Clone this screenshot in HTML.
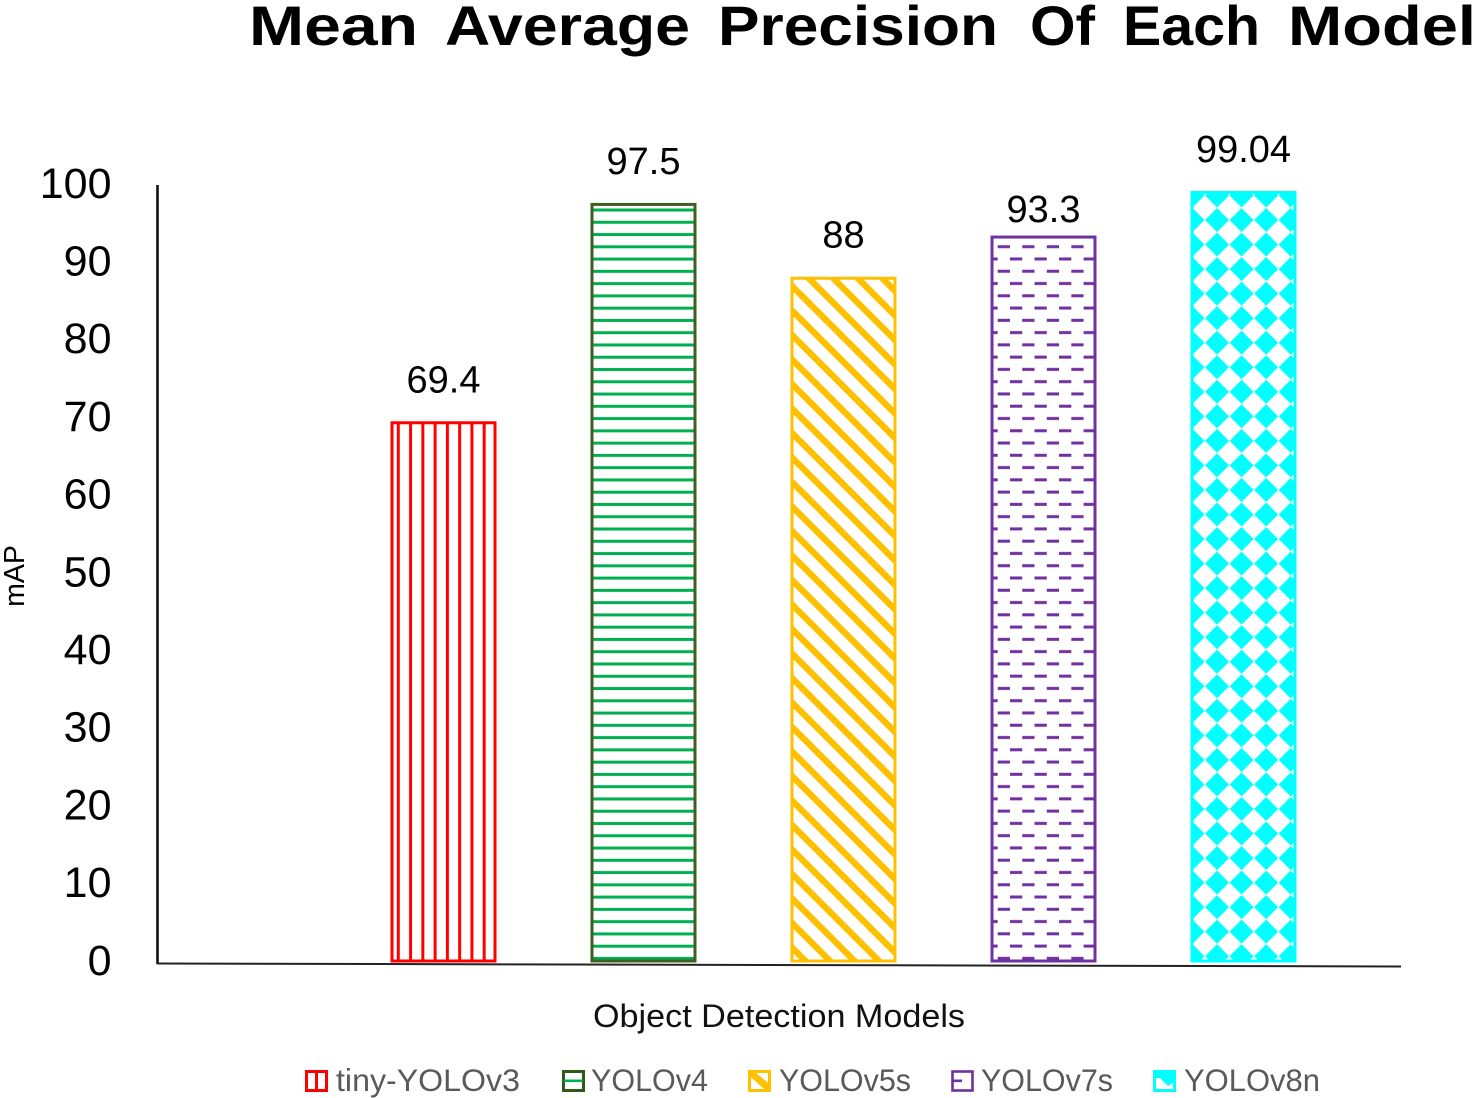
<!DOCTYPE html>
<html lang="en">
<head>
<meta charset="utf-8">
<title>Mean Average Precision Of Each Model</title>
<style>
  html, body { margin: 0; padding: 0; background: #ffffff; }
  svg { display: block; font-family: "Liberation Sans", sans-serif; }
</style>
</head>
<body>
<svg id="chart" xmlns="http://www.w3.org/2000/svg" width="1476" height="1098" viewBox="0 0 1476 1098">
  <defs>
    <pattern id="hatch-red" patternUnits="userSpaceOnUse" x="398.3" y="0" width="12.27" height="20">
      <rect width="12.27" height="20" fill="#ffffff"/>
      <rect x="-1.5" width="3" height="20" fill="#ff0000"/>
      <rect x="10.77" width="3" height="20" fill="#ff0000"/>
    </pattern>
    <pattern id="hatch-green" patternUnits="userSpaceOnUse" x="0" y="210" width="20" height="12.27">
      <rect width="20" height="12.27" fill="#ffffff"/>
      <rect y="-1.5" width="20" height="3" fill="#00b050"/>
      <rect y="10.77" width="20" height="3" fill="#00b050"/>
    </pattern>
    <pattern id="hatch-orange" patternUnits="userSpaceOnUse" x="16" y="0" width="24.5" height="24.5">
      <rect width="24.5" height="24.5" fill="#ffffff"/>
      <path d="M-5 -5L29.5 29.5M-5 19.5L5 29.5M19.5 -5L29.5 5" stroke="#ffc000" stroke-width="6.4" fill="none"/>
    </pattern>
    <pattern id="hatch-purple" patternUnits="userSpaceOnUse" x="997.7" y="240.5" width="24.54" height="24.54">
      <rect width="24.54" height="24.54" fill="#ffffff"/>
      <rect x="0" y="4.7" width="12.27" height="3" fill="#7030a0"/>
      <rect x="12.27" y="16.97" width="12.27" height="3" fill="#7030a0"/>
    </pattern>
    <pattern id="hatch-cyan" patternUnits="userSpaceOnUse" x="1192.5" y="195.5" width="24.54" height="24.54">
      <rect width="24.54" height="24.54" fill="#ffffff"/>
      <polygon points="0,-12 12,0 0,12 -12,0" fill="#00ffff"/>
      <polygon points="24.54,-12 36.54,0 24.54,12 12.54,0" fill="#00ffff"/>
      <polygon points="0,12.54 12,24.54 0,36.54 -12,24.54" fill="#00ffff"/>
      <polygon points="24.54,12.54 36.54,24.54 24.54,36.54 12.54,24.54" fill="#00ffff"/>
    </pattern>
  </defs>

  <rect width="1476" height="1098" fill="#ffffff"/>

  <text y="45" font-size="56" font-weight="700" fill="#000000"><tspan x="249" textLength="169" lengthAdjust="spacingAndGlyphs">Mean</tspan> <tspan x="445" textLength="245" lengthAdjust="spacingAndGlyphs">Average</tspan> <tspan x="718" textLength="280" lengthAdjust="spacingAndGlyphs">Precision</tspan> <tspan x="1030" textLength="65" lengthAdjust="spacingAndGlyphs">Of</tspan> <tspan x="1123" textLength="137" lengthAdjust="spacingAndGlyphs">Each</tspan> <tspan x="1288" textLength="188" lengthAdjust="spacingAndGlyphs">Model</tspan></text>

  <g id="y-ticks"></g>
  <g id="bars"></g>
  <g id="value-labels"></g>

  <line x1="157.5" y1="185" x2="157.5" y2="964" stroke="#111111" stroke-width="2.6"/>
  <line x1="157" y1="963.5" x2="1401" y2="966.5" stroke="#222222" stroke-width="2"/>

  <text transform="translate(24 576) rotate(-90)" text-anchor="middle" font-size="28.5" fill="#000000">mAP</text>
  <text x="593" y="1027" font-size="32" fill="#111111" textLength="372" lengthAdjust="spacingAndGlyphs">Object Detection Models</text>

  <g font-size="31.5" fill="#595959">
    <g>
      <rect x="306.5" y="1071.5" width="20" height="19" fill="#ffffff" stroke="#ff0000" stroke-width="3"/>
      <rect x="315" y="1071" width="3" height="20" fill="#ff0000"/>
      <text x="336" y="1091" textLength="184" lengthAdjust="spacingAndGlyphs">tiny-YOLOv3</text>
    </g>
    <g>
      <rect x="563.5" y="1071.5" width="20" height="19" fill="#ffffff" stroke="#2f5a1c" stroke-width="3"/>
      <rect x="564" y="1079.5" width="19" height="2.6" fill="#00b050"/>
      <text x="591" y="1091" textLength="117" lengthAdjust="spacingAndGlyphs">YOLOv4</text>
    </g>
    <g>
      <rect x="749.5" y="1071.5" width="20" height="19" fill="#ffffff" stroke="#ffc000" stroke-width="3"/>
      <path d="M750 1074L768 1090M752 1072L769 1086" stroke="#ffc000" stroke-width="3.6" fill="none"/>
      <text x="779" y="1091" textLength="132" lengthAdjust="spacingAndGlyphs">YOLOv5s</text>
    </g>
    <g>
      <rect x="952.5" y="1071.5" width="20" height="19" fill="#ffffff" stroke="#7030a0" stroke-width="2.6"/>
      <rect x="953" y="1079.5" width="9" height="2.6" fill="#7030a0"/>
      <text x="981" y="1091" textLength="132" lengthAdjust="spacingAndGlyphs">YOLOv7s</text>
    </g>
    <g>
      <rect x="1154.5" y="1071.5" width="20" height="19" fill="#ffffff" stroke="#00ffff" stroke-width="3"/>
      <polygon points="1155,1072 1174,1072 1174,1082 1168,1086 1160,1078 1155,1078" fill="#00ffff"/>
      <text x="1184" y="1091" textLength="136" lengthAdjust="spacingAndGlyphs">YOLOv8n</text>
    </g>
  </g>
</svg>

<script>
const categories = ['tiny-YOLOv3', 'YOLOv4', 'YOLOv5s', 'YOLOv7s', 'YOLOv8n'];
const mapValues = [69.4, 97.5, 88, 93.3, 99.04];
const yTickLabels = [0, 10, 20, 30, 40, 50, 60, 70, 80, 90, 100];
const barFills = ['url(#hatch-red)', 'url(#hatch-green)', 'url(#hatch-orange)', 'url(#hatch-purple)', 'url(#hatch-cyan)'];
const barStrokes = ['#ff0000', '#3f5f22', '#ffc000', '#7030a0', '#00ffff'];

const SVG_NS = 'http://www.w3.org/2000/svg';
const BASELINE_Y = 961;
const PX_PER_UNIT = 7.77;
const FIRST_BAR_X = 390.5;
const BAR_STEP = 200;
const BAR_WIDTH = 106;

function yScale(value) {
  return BASELINE_Y - value * PX_PER_UNIT;
}
function xScale(index) {
  return FIRST_BAR_X + index * BAR_STEP;
}
function slug(text) {
  return text.toLowerCase();
}

const tickGroup = document.getElementById('y-ticks');
yTickLabels.forEach(function (tick) {
  const label = document.createElementNS(SVG_NS, 'text');
  
  
  label.setAttribute('x', 111.5);
  label.setAttribute('y', yScale(tick) + 13.8);
  label.setAttribute('text-anchor', 'end');
  label.setAttribute('font-size', 43);
  label.setAttribute('fill', '#000000');
  label.textContent = tick;
  tickGroup.appendChild(label);
});

const barGroup = document.getElementById('bars');
const labelGroup = document.getElementById('value-labels');
categories.forEach(function (category, i) {
  const value = mapValues[i];
  const top = yScale(value);

  const bar = document.createElementNS(SVG_NS, 'rect');
  
  
  bar.setAttribute('x', xScale(i) + 1.5);
  bar.setAttribute('y', top + 1);
  bar.setAttribute('width', BAR_WIDTH - 3);
  bar.setAttribute('height', BASELINE_Y - top - 1);
  bar.setAttribute('fill', barFills[i]);
  bar.setAttribute('stroke', barStrokes[i]);
  bar.setAttribute('stroke-width', 3);
  barGroup.appendChild(bar);

  const label = document.createElementNS(SVG_NS, 'text');
  
  
  label.setAttribute('x', xScale(i) + BAR_WIDTH / 2);
  label.setAttribute('y', top - (i === 3 ? 14 : 29.5));
  label.setAttribute('text-anchor', 'middle');
  label.setAttribute('font-size', 38);
  label.setAttribute('fill', '#000000');
  label.textContent = String(value);
  labelGroup.appendChild(label);
});
</script>
</body>
</html>
